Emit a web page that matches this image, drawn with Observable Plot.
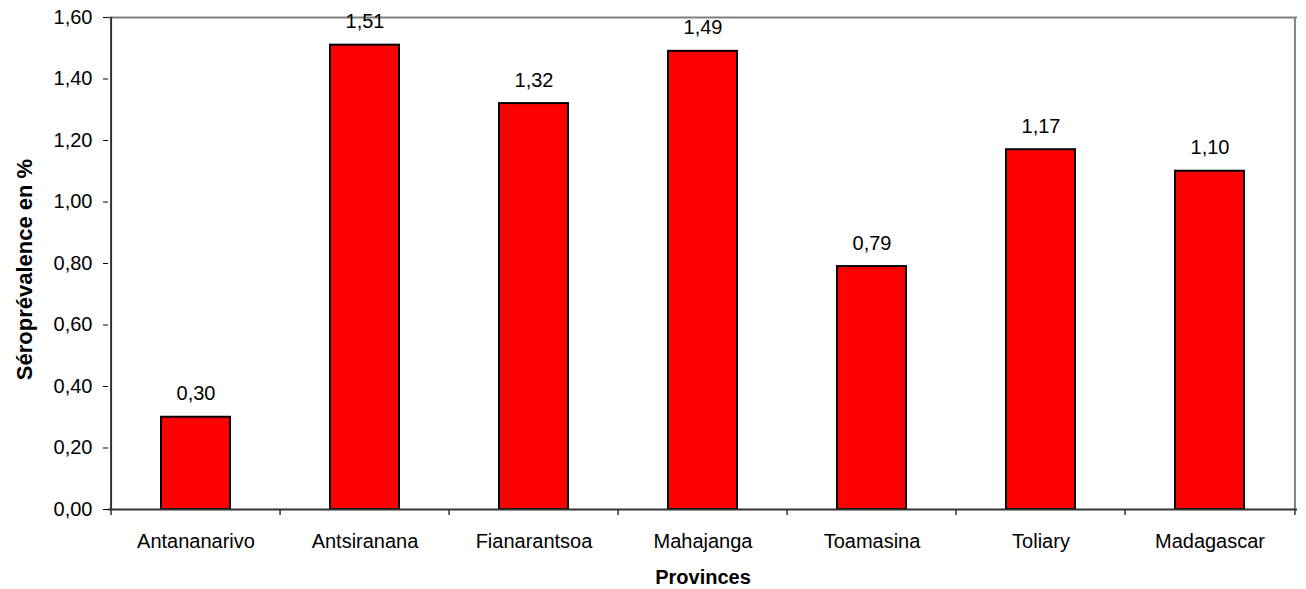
<!DOCTYPE html>
<html>
<head>
<meta charset="utf-8">
<script src="https://cdn.jsdelivr.net/npm/d3@7"></script>
<script src="https://cdn.jsdelivr.net/npm/@observablehq/plot@0.6"></script>
<style>
  html, body { margin: 0; padding: 0; background: #fff; }
  #chart svg { display: block; }
</style>
</head>
<body>
<div id="chart"></div>
<script>
const categories = ["Antananarivo", "Antsiranana", "Fianarantsoa", "Mahajanga", "Toamasina", "Toliary", "Madagascar"];
const values = [0.30, 1.51, 1.32, 1.49, 0.79, 1.17, 1.10];
const yTicks = [0, 0.2, 0.4, 0.6, 0.8, 1.0, 1.2, 1.4, 1.6];
const xTitle = "Provinces";
const yTitle = "Séroprévalence en %";

const data = categories.map((c, i) => ({province: c, value: values[i]}));
const fmt = v => d3.format(".2f")(v).replace(".", ",");

const W = 1306, H = 589;
const mL = 108, mR = 9, mT = 17, mB = 80;
const bw = (W - mL - mR) / categories.length;
const font = "'Liberation Sans', Arial, sans-serif";

const chart = Plot.plot({
  width: W,
  height: H,
  marginLeft: mL,
  marginRight: mR,
  marginTop: mT,
  marginBottom: mB,
  style: {fontFamily: font, fontSize: "20px", color: "#000", background: "#fff"},
  x: {domain: categories, padding: 0, label: null},
  y: {domain: [0, 1.6], label: null},
  marks: [
    // grey top & right frame lines
    Plot.ruleY([1.6], {stroke: "#808080", strokeWidth: 2}),
    Plot.ruleX([categories[categories.length - 1]], {dx: bw / 2, y1: 0, y2: 1.6, stroke: "#808080", strokeWidth: 2}),
    // bars
    Plot.barY(data, {x: "province", y: "value", fill: "#ff0000", stroke: "#000", strokeWidth: 2, insetLeft: 50, insetRight: 50}),
    // value labels
    Plot.text(data, {x: "province", y: "value", text: d => fmt(d.value), dy: -17, lineAnchor: "bottom", fontSize: 20, fill: "#000"}),
    // axes
    Plot.axisY({ticks: yTicks, tickFormat: fmt, tickSize: 5, tickPadding: 11, label: null, fontSize: 20, stroke: "#000"}),
    Plot.axisX({tickSize: 0, tickPadding: 24, label: null, fontSize: 20}),
    // left and bottom axis lines
    Plot.ruleX([categories[0]], {dx: -bw / 2, y1: 0, y2: 1.6, stroke: "#333", strokeWidth: 2}),
    Plot.ruleY([0], {stroke: "#333", strokeWidth: 2}),
    // x ticks between categories
    Plot.ruleX(categories, {dx: -bw / 2, y1: 0, y2: 0, insetBottom: -6, stroke: "#333", strokeWidth: 1.5}),
    Plot.ruleX([categories[categories.length - 1]], {dx: bw / 2, y1: 0, y2: 0, insetBottom: -6, stroke: "#333", strokeWidth: 1.5}),
    // titles
    Plot.text([xTitle], {frameAnchor: "bottom", dy: 74, lineAnchor: "bottom", fontWeight: "bold", fontSize: 20, fill: "#000"}),
    Plot.text([yTitle], {frameAnchor: "left", dx: -84, dy: 6, rotate: -90, textAnchor: "middle", fontWeight: "bold", fontSize: 22, fill: "#000"})
  ]
});
document.getElementById("chart").appendChild(chart);
</script>
</body>
</html>
